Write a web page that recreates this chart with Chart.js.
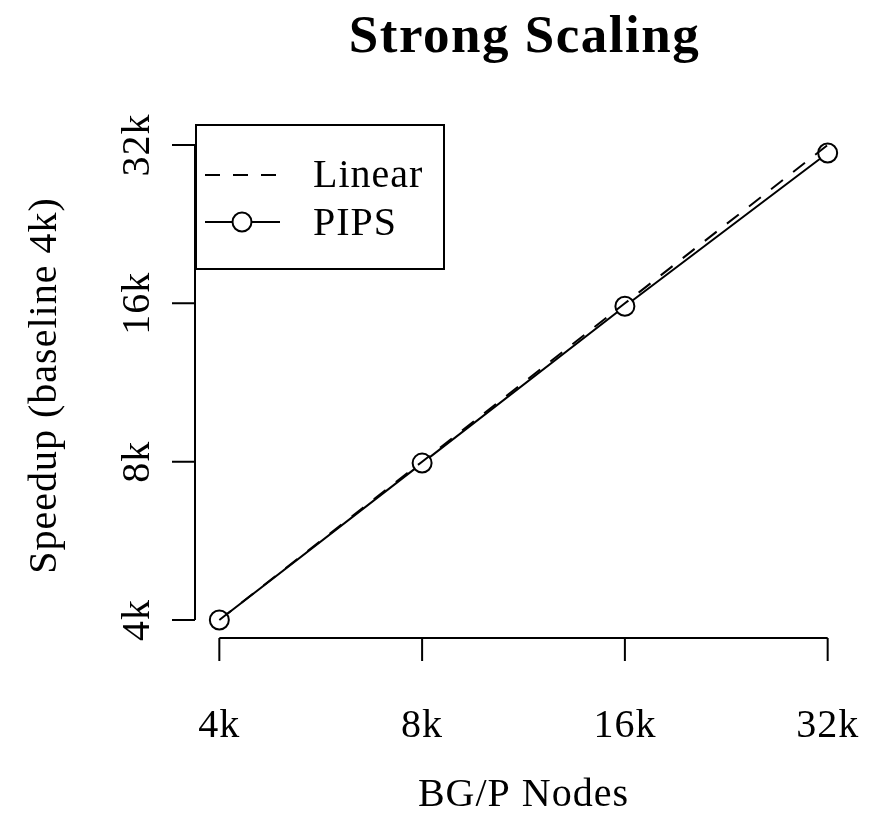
<!DOCTYPE html>
<html>
<head>
<meta charset="utf-8">
<script src="https://cdn.jsdelivr.net/npm/chart.js@4.4.1/dist/chart.umd.min.js"></script>
<style>
  html, body { margin: 0; padding: 0; background: #fff; }
  #wrap { width: 870px; height: 839px; }
</style>
</head>
<body>
<div id="wrap"><canvas id="scaling"></canvas></div>
<script>
// nodes (in thousands) and speedup (in thousands, baseline 4k)
const nodes = [4, 8, 16, 32];
const linearSpeedup = [4, 8, 16, 32];
const pipsSpeedup = [4, 7.95, 15.8, 30.9];
const xTickValues = [4, 8, 16, 32];
const xTickLabels = ["4k", "8k", "16k", "32k"];
const yTickValues = [4, 8, 16, 32];
const yTickLabels = ["4k", "8k", "16k", "32k"];

const FONT = "'Liberation Serif', 'Times New Roman', serif";
const DASH = [15, 13];

// R-style axes, titles and legend drawn on top of the chart area
const rStyle = {
  id: "rStyle",
  afterDraw(chart) {
    const ctx = chart.ctx;
    const xs = chart.scales.x, ys = chart.scales.y;
    const area = chart.chartArea;
    ctx.save();
    ctx.strokeStyle = "#000";
    ctx.fillStyle = "#000";
    ctx.lineWidth = 2;

    // x axis
    const xAxisY = area.bottom - 1;
    const x0 = xs.getPixelForValue(xTickValues[0]);
    const x1 = xs.getPixelForValue(xTickValues[xTickValues.length - 1]);
    ctx.beginPath();
    ctx.moveTo(x0, xAxisY);
    ctx.lineTo(x1, xAxisY);
    xTickValues.forEach(v => {
      const px = xs.getPixelForValue(v);
      ctx.moveTo(px, xAxisY);
      ctx.lineTo(px, xAxisY + 23);
    });
    ctx.stroke();

    ctx.font = "40px " + FONT;
    ctx.letterSpacing = "1px";
    ctx.textAlign = "center";
    ctx.textBaseline = "alphabetic";
    xTickValues.forEach((v, i) => {
      ctx.fillText(xTickLabels[i], xs.getPixelForValue(v), 737);
    });

    // y axis
    const yAxisX = area.left;
    const y0 = ys.getPixelForValue(yTickValues[0]);
    const y1 = ys.getPixelForValue(yTickValues[yTickValues.length - 1]);
    ctx.beginPath();
    ctx.moveTo(yAxisX, y0);
    ctx.lineTo(yAxisX, y1);
    yTickValues.forEach(v => {
      const py = ys.getPixelForValue(v);
      ctx.moveTo(yAxisX, py);
      ctx.lineTo(yAxisX - 23, py);
    });
    ctx.stroke();

    yTickValues.forEach((v, i) => {
      ctx.save();
      ctx.translate(149, ys.getPixelForValue(v));
      ctx.rotate(-Math.PI / 2);
      ctx.fillText(yTickLabels[i], 0, 0);
      ctx.restore();
    });

    // axis titles
    ctx.fillText("BG/P Nodes", (area.left + area.right) / 2, 806);
    ctx.save();
    ctx.translate(56, (area.top + area.bottom) / 2 + 3);
    ctx.rotate(-Math.PI / 2);
    ctx.fillText("Speedup (baseline 4k)", 0, 0);
    ctx.restore();

    // main title
    ctx.font = "bold 53px " + FONT;
    ctx.letterSpacing = "1.5px";
    ctx.fillText("Strong Scaling", (area.left + area.right) / 2 + 1, 52);
    ctx.letterSpacing = "1px";

    // legend
    ctx.lineWidth = 2;
    ctx.fillStyle = "#fff";
    ctx.fillRect(196, 125, 248, 144);
    ctx.strokeRect(196, 125, 248, 144);
    ctx.fillStyle = "#000";

    ctx.beginPath();
    ctx.setLineDash(DASH);
    ctx.moveTo(205, 175);
    ctx.lineTo(280, 175);
    ctx.stroke();
    ctx.setLineDash([]);

    ctx.beginPath();
    ctx.moveTo(205, 222);
    ctx.lineTo(280, 222);
    ctx.stroke();
    ctx.beginPath();
    ctx.arc(242, 222, 9.5, 0, Math.PI * 2);
    ctx.fillStyle = "#fff";
    ctx.fill();
    ctx.stroke();

    ctx.fillStyle = "#000";
    ctx.font = "40px " + FONT;
    ctx.textAlign = "left";
    ctx.fillText("Linear", 313, 187);
    ctx.fillText("PIPS", 313, 235);
    ctx.restore();
  }
};

const logMin = 4 * Math.pow(2, -0.12);
const logMax = 32 * Math.pow(2, 0.12);

new Chart(document.getElementById("scaling"), {
  type: "line",
  data: {
    datasets: [
      {
        label: "Linear",
        data: nodes.map((n, i) => ({ x: n, y: linearSpeedup[i] })),
        borderColor: "#000",
        borderWidth: 2,
        borderDash: DASH,
        pointRadius: 0,
        tension: 0
      },
      {
        label: "PIPS",
        data: nodes.map((n, i) => ({ x: n, y: pipsSpeedup[i] })),
        borderColor: "#000",
        borderWidth: 2,
        pointRadius: 9.5,
        pointBorderWidth: 2,
        pointBorderColor: "#000",
        pointBackgroundColor: "#fff",
        tension: 0
      }
    ]
  },
  options: {
    responsive: true,
    maintainAspectRatio: false,
    animation: false,
    layout: { padding: { left: 195, right: 18, top: 126, bottom: 200 } },
    plugins: { legend: { display: false }, tooltip: { enabled: false } },
    scales: {
      x: { type: "logarithmic", min: logMin, max: logMax, display: false },
      y: { type: "logarithmic", min: logMin, max: logMax, display: false }
    }
  },
  plugins: [rStyle]
});
</script>
</body>
</html>
